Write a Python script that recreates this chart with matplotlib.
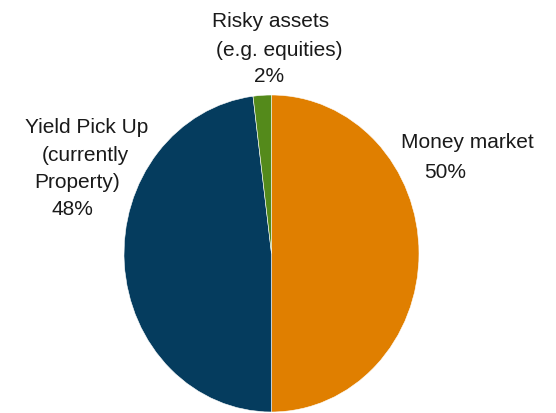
import matplotlib.pyplot as plt

plt.rcParams['font.family'] = ['Liberation Sans', 'DejaVu Sans']

# Allocation data (clockwise from 12 o'clock)
labels = ["Money market", "Yield Pick Up (currently Property)", "Risky assets (e.g. equities)"]
shares = [50, 48, 2]
colors = ["#E07F00", "#053C5E", "#548A1B"]

W, H = 556, 414
fig = plt.figure(figsize=(W / 100, H / 100), dpi=100)

# pie is drawn slightly taller than wide, as in the original
left, right, top, bottom = 124, 419, 96, 413
ax = fig.add_axes([left / W, 1 - bottom / H, (right - left) / W, (bottom - top) / H])
ax.pie(shares, colors=colors, startangle=90, counterclock=False,
       wedgeprops=dict(edgecolor="white", linewidth=0.4))
ax.set_aspect('auto')
ax.set_xlim(-1, 1)
ax.set_ylim(-1, 1)
ax.axis('off')

# data labels, line by line (pixel centre x, baseline y)
label_lines = [
    [("Risky assets", 271, 27), ("(e.g. equities)", 279, 56), (f"{shares[2]}%", 269, 82)],
    [("Yield Pick Up", 87, 133), ("(currently", 85, 161), ("Property)", 77, 188), (f"{shares[1]}%", 72, 215)],
    [("Money market", 467, 148), (f"{shares[0]}%", 445, 178)],
]
for block in label_lines:
    for txt, x, y in block:
        fig.text(x / W, 1 - y / H, txt, ha='center', va='baseline', fontsize=15, color="#1a1a1a")

plt.savefig('out.png', dpi=100)
